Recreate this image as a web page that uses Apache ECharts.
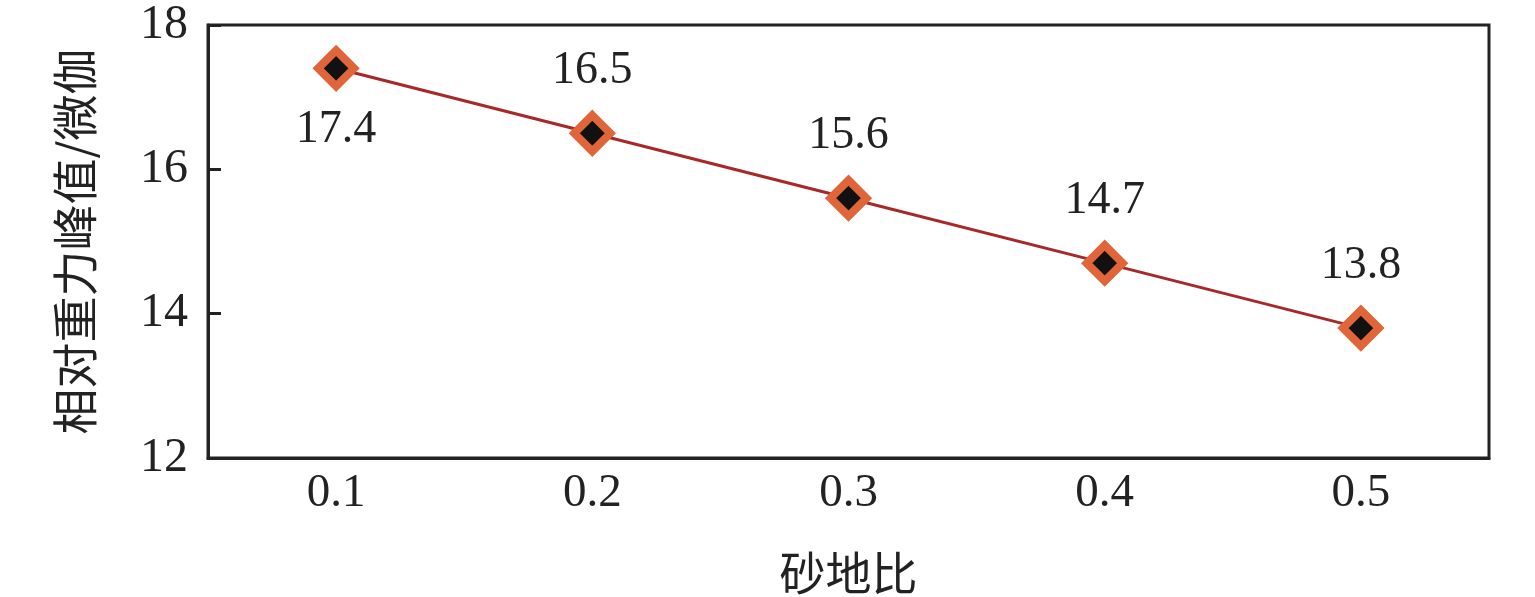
<!DOCTYPE html>
<html>
<head>
<meta charset="utf-8">
<title>砂地比 - 相对重力峰值</title>
<script src="https://cdn.jsdelivr.net/npm/echarts@6/dist/echarts.min.js"></script>
<style>
  html, body { margin: 0; padding: 0; background: #fff; }
</style>
</head>
<body>
<div id="main" style="width: 1535px; height: 597px;"></div>
<script type="text/javascript">
// 数据
var sandRatio = ['0.1', '0.2', '0.3', '0.4', '0.5'];
var peakValue = [17.4, 16.5, 15.6, 14.7, 13.8];
// 第一个点标签在下方，其余在上方
var labelPos = ['bottom', 'top', 'top', 'top', 'top'];

var serif = '"Liberation Serif", "DejaVu Serif", serif';
var cjk = '"Noto Sans CJK SC", sans-serif';

var myChart = echarts.init(document.getElementById('main'), null, { renderer: 'canvas' });

var points = peakValue.map(function (v, i) {
    return {
        value: v,
        label: { position: labelPos[i] }
    };
});

var option = {
    animation: false,
    grid: {
        left: 208,
        right: 46,
        top: 25,
        bottom: 139,
        outerBoundsMode: 'none',
        containLabel: false,
        show: true,
        borderColor: '#222',
        borderWidth: 3
    },
    xAxis: {
        type: 'category',
        data: sandRatio,
        boundaryGap: true,
        name: '砂地比',
        nameLocation: 'middle',
        nameGap: 92,
        nameTextStyle: { fontFamily: cjk, fontSize: 46, color: '#222' },
        axisLine: { lineStyle: { color: '#222', width: 3 } },
        axisTick: { inside: true, alignWithLabel: true, length: 14, lineStyle: { color: '#222', width: 3 } },
        axisLabel: { fontFamily: serif, fontSize: 47, color: '#222', margin: 12 },
        splitLine: { show: false }
    },
    yAxis: {
        type: 'value',
        min: 12,
        max: 18,
        interval: 2,
        name: '相对重力峰值/微伽',
        nameLocation: 'middle',
        nameRotate: 90,
        nameGap: 110,
        nameTextStyle: { fontFamily: cjk, fontSize: 46, color: '#222' },
        axisLine: { show: true, lineStyle: { color: '#222', width: 3 } },
        axisTick: { show: true, inside: true, length: 13, lineStyle: { color: '#222', width: 3 } },
        axisLabel: { fontFamily: serif, fontSize: 48, color: '#222', margin: 20 },
        splitLine: { show: false }
    },
    series: [
        {
            type: 'line',
            data: points,
            symbol: 'diamond',
            symbolSize: 36,
            lineStyle: { color: '#a8282a', width: 3 },
            itemStyle: { color: '#111', borderColor: '#e0663a', borderWidth: 8 },
            label: {
                show: true,
                distance: 17,
                fontFamily: serif,
                fontSize: 46,
                color: '#222'
            },
            z: 3
        }
    ]
};

myChart.setOption(option);
</script>
</body>
</html>
